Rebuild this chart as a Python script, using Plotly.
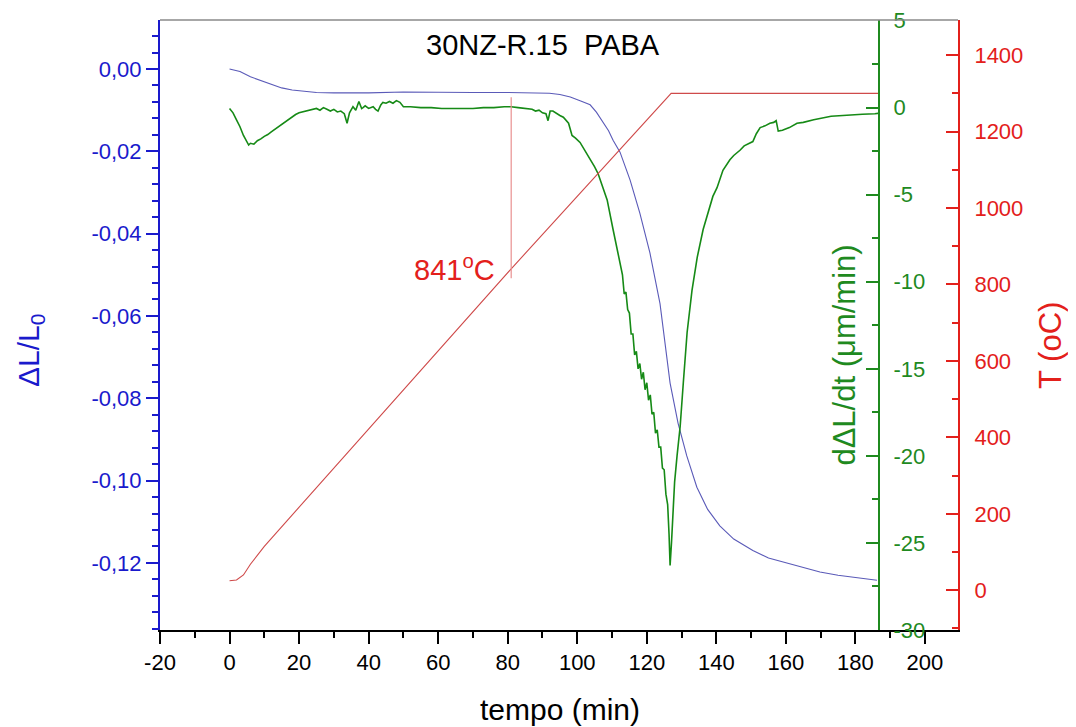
import plotly.graph_objects as go

# ---------------- data ----------------
time_dl = [0, 3, 6, 9, 12, 15, 18, 21, 25, 30, 40, 50, 60, 70, 80, 88, 92, 95, 98, 101,
           103.7, 105.5, 107.4, 109, 110.3, 112.3, 115.2, 118, 120.9, 123.8, 126.7, 129,
           131.5, 134.4, 137.5, 141, 145, 150.5, 155, 160.3, 165, 169.8, 175, 180, 186.2]
dl_l0 = [0.0, -0.0006, -0.0019, -0.0028, -0.0038, -0.0046, -0.0051, -0.0054, -0.0057,
         -0.0058, -0.0058, -0.0056, -0.0057, -0.0057, -0.0057, -0.0058, -0.0059, -0.0062,
         -0.0068, -0.0078, -0.0087, -0.0105, -0.0129, -0.0150, -0.0173, -0.0202, -0.0270,
         -0.0350, -0.0447, -0.0570, -0.0763, -0.0861, -0.0940, -0.1016, -0.1070, -0.1110,
         -0.1142, -0.1170, -0.1188, -0.1200, -0.1212, -0.1222, -0.1230, -0.1236, -0.1242]

time_rate = [0, 1, 2, 3, 4, 5, 5.5, 6, 7, 8, 9, 10, 11, 12, 13, 14, 15, 16, 17, 18, 19, 20,
             21, 22, 23, 24, 25, 26, 27, 28, 29, 30, 31, 32, 33, 33.8, 34.5, 35.5, 36.3, 37.2,
             38, 38.4, 39, 40, 41.3, 42, 42.7, 43.5, 44.1, 45, 46, 47, 48, 49, 50, 52, 55, 58,
             61, 64, 67, 70, 73, 76, 79, 81, 83, 85, 87, 88, 89, 90, 91, 91.6, 92.2, 93, 94,
             95, 96, 97, 97.5, 98.5, 99.5, 100.8, 102, 103.7, 105, 106, 107, 108.6, 110.3,
             112.3, 113, 113.5, 114, 114.5, 115, 115.5, 116, 116.5, 117, 117.5, 118, 118.5,
             119, 119.5, 120, 120.5, 121, 121.5, 122, 122.5, 123, 123.5, 124, 124.5, 125,
             125.5, 126, 126.4, 126.7, 127.1, 127.5, 128, 128.7, 129.6, 130.5, 131.6, 133,
             134.5, 136.2, 138, 139, 140.2, 141.9, 143.9, 145, 146.8, 148, 150.5, 151.5,
             152.6, 154, 155.4, 156.5, 157.2, 157.8, 159, 161, 163.2, 165, 168, 170.7, 173,
             176.4, 179, 182, 185.6, 187]
rate = [-0.05, -0.3, -0.7, -1.1, -1.6, -2.0, -2.15, -2.05, -2.1, -1.9, -1.8, -1.65, -1.55,
        -1.4, -1.25, -1.1, -0.95, -0.8, -0.65, -0.5, -0.4, -0.3, -0.25, -0.2, -0.15, -0.1,
        -0.05, -0.15, 0.0, -0.1, -0.2, -0.1, -0.25, -0.2, -0.35, -0.9, -0.3, 0.05, -0.15,
        0.35, -0.05, 0.0, 0.1, -0.05, 0.05, -0.1, -0.2, 0.15, 0.3, 0.25, 0.35, 0.25, 0.4,
        0.3, 0.05, 0.05, 0.0, 0.0, -0.05, -0.05, -0.05, -0.05, 0.0, 0.0, 0.05, 0.05, 0.0,
        -0.05, -0.1, -0.2, -0.15, -0.3, -0.35, -0.75, -0.2, -0.2, -0.35, -0.45, -0.55,
        -0.8, -0.9, -1.6, -1.75, -2.0, -2.4, -2.9, -3.4, -3.8, -4.4, -5.3, -7.0, -8.9,
        -9.6, -10.7, -10.6, -11.6, -11.8, -13.0, -13.0, -14.2, -14.0, -15.0, -14.7, -15.6,
        -15.2, -16.2, -15.8, -16.8, -16.5, -17.6, -17.5, -18.7, -18.5, -19.5, -19.5, -20.7,
        -20.8, -22.2, -22.8, -24.5, -26.3, -25.0, -23.3, -21.5, -20.0, -18.3, -15.8, -12.9,
        -10.5, -8.6, -7.0, -5.7, -5.1, -4.6, -3.6, -3.0, -2.75, -2.45, -2.2, -1.95, -1.5,
        -1.15, -1.05, -0.9, -0.85, -0.75, -1.35, -1.3, -1.15, -0.9, -0.85, -0.7, -0.6,
        -0.5, -0.45, -0.4, -0.38, -0.35, -0.32]

time_temp = [0, 2, 4, 6, 10, 81, 127, 187]
temperature = [25, 27, 40, 68, 115, 841, 1300, 1300]

marker_time = [81, 81]
marker_temp = [816, 1290]
marker_label = "841<sup>o</sup>C"

x_ticks = list(range(-20, 201, 20))
x_ticktext = ["-20", "0", "20", "40", "60", "80", "100", "120", "140", "160", "180", "200"]
dl_ticks = [-0.12, -0.10, -0.08, -0.06, -0.04, -0.02, 0.0]
dl_ticktext = ["-0,12", "-0,10", "-0,08", "-0,06", "-0,04", "-0,02", "0,00"]
rate_ticks = [-30, -25, -20, -15, -10, -5, 0, 5]
rate_ticktext = ["-30", "-25", "-20", "-15", "-10", "-5", "0", "5"]
temp_ticks = [0, 200, 400, 600, 800, 1000, 1200, 1400]

title_text = "30NZ-R.15  PABA"

# ---------------- styles ----------------
BLUE_AX = "#1a1acc"
BLUE_LN = "#5a5ab8"
GREEN = "#1f8a1f"
GREEN_LN = "#168a16"
RED = "#e3201b"
RED_LN = "#cf4a4a"
FONT = "Liberation Sans, Arial, sans-serif"

fig = go.Figure()
fig.add_trace(go.Scatter(x=time_dl, y=dl_l0, mode="lines", yaxis="y",
                         line=dict(color=BLUE_LN, width=1.1), showlegend=False))
fig.add_trace(go.Scatter(x=time_rate, y=rate, mode="lines", yaxis="y2",
                         line=dict(color=GREEN_LN, width=1.6), showlegend=False))
fig.add_trace(go.Scatter(x=time_temp, y=temperature, mode="lines", yaxis="y3",
                         line=dict(color=RED_LN, width=1.1), showlegend=False))
fig.add_trace(go.Scatter(x=marker_time, y=marker_temp, mode="lines", yaxis="y3",
                         line=dict(color="#e89090", width=1.2), showlegend=False))

tickfont = lambda c: dict(family=FONT, size=22, color=c)

fig.update_layout(
    width=1076, height=727,
    margin=dict(l=152, r=126, t=12, b=105),
    paper_bgcolor="white", plot_bgcolor="white",
    font=dict(family=FONT),
    xaxis=dict(range=[-20, 209.5], tickvals=x_ticks, ticktext=x_ticktext,
               showgrid=False, zeroline=False, automargin=False,
               showline=True, linecolor="black", linewidth=2,
               ticks="outside", ticklen=12, tickwidth=1.6, tickcolor="black",
               minor=dict(dtick=10, tick0=0, ticks="outside", ticklen=6,
                          tickwidth=1.5, tickcolor="black"),
               tickfont=tickfont("black")),
    yaxis=dict(range=[-0.1363, 0.0119], tickvals=dl_ticks, ticktext=dl_ticktext,
               showgrid=False, zeroline=False, automargin=False,
               showline=True, linecolor=BLUE_AX,
               linewidth=2, ticks="outside", ticklen=12, tickwidth=1.6,
               tickcolor=BLUE_AX,
               minor=dict(dtick=0.004, tick0=0, ticks="outside", ticklen=6,
                          tickwidth=1.5, tickcolor=BLUE_AX),
               tickfont=tickfont(BLUE_AX)),
    yaxis2=dict(range=[-30, 5.03], tickvals=rate_ticks, ticktext=rate_ticktext,
                overlaying="y", side="right", automargin=False,
                ticklabeloverflow="allow",
                anchor="free", position=0.901, showgrid=False, zeroline=False,
                showline=True, linecolor=GREEN, linewidth=2, ticks="inside",
                ticklen=12, tickwidth=1.6, tickcolor=GREEN, ticklabelstandoff=9,
                minor=dict(dtick=2.5, tick0=0, ticks="inside", ticklen=6,
                           tickwidth=1.5, tickcolor=GREEN),
                tickfont=tickfont(GREEN)),
    yaxis3=dict(range=[-104, 1492], tickvals=temp_ticks, overlaying="y", side="right",
                anchor="x", showgrid=False, zeroline=False, showline=True,
                automargin=False,
                linecolor=RED, linewidth=2, ticks="inside", ticklen=12, tickwidth=1.6,
                tickcolor=RED, ticklabelstandoff=10,
                minor=dict(dtick=100, tick0=0, ticks="inside", ticklen=6,
                           tickwidth=1.5, tickcolor=RED),
                tickfont=tickfont(RED)),
    shapes=[dict(type="line", xref="paper", yref="paper", x0=0, x1=1, y0=1, y1=1,
                 line=dict(color="#8a8a8a", width=1.5))],
    annotations=[
        dict(text=title_text, xref="paper", yref="paper", x=0.480, y=0.959,
             xanchor="center", yanchor="middle",
             showarrow=False, font=dict(family=FONT, size=29, color="black")),
        dict(text="tempo (min)", xref="paper", yref="paper", x=0.501, y=-0.131,
             xanchor="center", yanchor="middle",
             showarrow=False, font=dict(family=FONT, size=30, color="black")),
        dict(text="\u0394L/L<sub>0</sub>", xref="paper", yref="paper", x=-0.163,
             y=0.459, textangle=-90, showarrow=False, xanchor="center",
             yanchor="middle", font=dict(family=FONT, size=30, color=BLUE_AX)),
        dict(text="d\u0394L/dt (\u03bcm/min)", xref="paper", yref="paper", x=0.858,
             y=0.451, textangle=-90, showarrow=False, xanchor="center",
             yanchor="middle", font=dict(family=FONT, size=31, color=GREEN)),
        dict(text="T (oC)", xref="paper", yref="paper", x=1.115, y=0.467,
             textangle=-90, showarrow=False, xanchor="center", yanchor="middle",
             font=dict(family=FONT, size=31, color=RED)),
        dict(text=marker_label, xref="paper", yref="paper", x=0.422, y=0.593,
             xanchor="right", yanchor="middle", showarrow=False,
             font=dict(family=FONT, size=29, color=RED)),
    ],
)

fig.write_html("out.html")
